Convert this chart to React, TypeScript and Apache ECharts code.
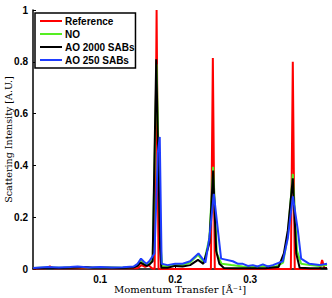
import React, { useEffect, useRef } from "react";
import * as echarts from "echarts";

// Momentum transfer (x) and intensity (y) pairs
const referenceX = [0.0107, 0.028, 0.033, 0.038, 0.06, 0.1, 0.15, 0.155, 0.16, 0.165, 0.169, 0.1727, 0.1753, 0.1779, 0.19, 0.2477, 0.2503, 0.2529, 0.3543, 0.3569, 0.3595, 0.393, 0.396, 0.399, 0.4025];
const referenceY = [0.002, 0.003, 0.01, 0.003, 0.003, 0.003, 0.003, 0.015, 0.008, 0.014, 0.003, 0.0, 1.0, 0.0, 0.0, 0.0, 0.815, 0.0, 0.0, 0.8, 0.0, 0.0, 0.035, 0.004, 0.004];

const noX = [0.0107, 0.03, 0.05, 0.07, 0.09, 0.11, 0.13, 0.145, 0.15, 0.154, 0.158, 0.162, 0.166, 0.17, 0.1753, 0.1805, 0.183, 0.19, 0.2, 0.21, 0.22, 0.2305, 0.2385, 0.2457, 0.2507, 0.2555, 0.262, 0.275, 0.29, 0.305, 0.32, 0.335, 0.344, 0.3503, 0.3569, 0.3625, 0.368, 0.38, 0.392, 0.4025];
const noY = [0.004, 0.006, 0.005, 0.008, 0.005, 0.006, 0.005, 0.008, 0.018, 0.035, 0.025, 0.018, 0.025, 0.035, 0.79, 0.09, 0.01, 0.012, 0.015, 0.015, 0.025, 0.055, 0.025, 0.12, 0.395, 0.06, 0.02, 0.015, 0.01, 0.008, 0.012, 0.01, 0.025, 0.13, 0.367, 0.07, 0.02, 0.015, 0.012, 0.015];

const ao2000X = [0.0107, 0.03, 0.05, 0.07, 0.08, 0.09, 0.11, 0.13, 0.145, 0.15, 0.154, 0.158, 0.162, 0.166, 0.17, 0.1748, 0.18, 0.1815, 0.19, 0.2, 0.21, 0.22, 0.2305, 0.2377, 0.2457, 0.2507, 0.2547, 0.259, 0.265, 0.28, 0.3, 0.32, 0.338, 0.345, 0.3503, 0.3569, 0.3615, 0.366, 0.38, 0.4025];
const ao2000Y = [0.003, 0.004, 0.004, 0.006, 0.008, 0.005, 0.005, 0.004, 0.006, 0.012, 0.025, 0.018, 0.012, 0.018, 0.03, 0.81, 0.08, 0.005, 0.005, 0.012, 0.01, 0.015, 0.035, 0.02, 0.1, 0.38, 0.07, 0.02, 0.004, 0.003, 0.003, 0.003, 0.008, 0.06, 0.15, 0.35, 0.06, 0.005, 0.003, 0.003];

const ao250X = [0.0107, 0.02, 0.03, 0.045, 0.06, 0.07, 0.085, 0.1, 0.115, 0.13, 0.145, 0.15, 0.1545, 0.1585, 0.162, 0.1655, 0.169, 0.1725, 0.177, 0.1795, 0.182, 0.19, 0.2, 0.21, 0.22, 0.2311, 0.2404, 0.2457, 0.2516, 0.2613, 0.2769, 0.284, 0.2903, 0.297, 0.3036, 0.31, 0.317, 0.3235, 0.3303, 0.3436, 0.3503, 0.357, 0.3636, 0.368, 0.379, 0.3924, 0.4025];
const ao250Y = [0.004, 0.006, 0.008, 0.006, 0.008, 0.01, 0.006, 0.008, 0.006, 0.007, 0.01, 0.02, 0.04, 0.028, 0.02, 0.03, 0.045, 0.06, 0.45, 0.51, 0.02, 0.015, 0.02, 0.02, 0.03, 0.06, 0.025, 0.12, 0.29, 0.04, 0.03, 0.02, 0.02, 0.012, 0.015, 0.01, 0.018, 0.01, 0.015, 0.03, 0.12, 0.28, 0.15, 0.04, 0.02, 0.015, 0.02];

const seriesNames = ["Reference", "NO", "AO 2000 SABs", "AO 250 SABs"];
const seriesColors = ["#ff0000", "#55ee22", "#000000", "#1f3dff"];
const xTickValues = [0.1, 0.2, 0.3];

const zip = (xs: number[], ys: number[]) => xs.map((x, i) => [x, ys[i]]);

export default function App() {
  const ref = useRef<HTMLDivElement>(null);
  useEffect(() => {
    if (!ref.current) return;
    const chart = echarts.init(ref.current, undefined, { renderer: "svg" });
    const datasets = [
      zip(referenceX, referenceY),
      zip(noX, noY),
      zip(ao2000X, ao2000Y),
      zip(ao250X, ao250Y),
    ];
    const labelFont = { fontFamily: "Liberation Sans, Arial, sans-serif", fontWeight: "bold" as const, fontSize: 10, color: "#000" };
    chart.setOption({
      animation: false,
      backgroundColor: "#fff",
      grid: { left: 33, right: 5, top: 10, bottom: 29, containLabel: false, outerBoundsMode: "none" },
      legend: {
        orient: "vertical",
        left: 35,
        top: 13,
        padding: [2, 1, 2, 5],
        itemGap: 1,
        itemWidth: 22,
        itemHeight: 2,
        icon: "rect",
        backgroundColor: "#fff",
        borderColor: "#000",
        borderWidth: 1.5,
        borderRadius: 0,
        textStyle: { ...labelFont, lineHeight: 12, padding: [0, 0, 0, -2] },
        data: seriesNames,
      },
      xAxis: {
        type: "value",
        min: 0.0105,
        max: 0.4025,
        name: "Momentum Transfer [Å⁻¹]",
        nameLocation: "middle",
        nameGap: 15,
        nameMoveOverlap: false,
        nameTextStyle: { fontFamily: "DejaVu Serif, serif", fontSize: 10, color: "#000", verticalAlign: "top" },
        axisLine: { show: true, lineStyle: { color: "#000", width: 1.5 } },
        axisTick: { show: true, inside: true, length: 3, customValues: xTickValues, lineStyle: { color: "#000" } },
        axisLabel: { ...labelFont, margin: 5, customValues: xTickValues, formatter: (v: number) => String(Math.round(v * 10) / 10) },
        splitLine: { show: false },
      },
      yAxis: {
        type: "value",
        min: 0,
        max: 1,
        interval: 0.2,
        name: "Scattering Intensity [A.U.]",
        nameLocation: "middle",
        nameGap: 20,
        nameMoveOverlap: false,
        nameRotate: 90,
        nameTextStyle: { fontFamily: "DejaVu Serif, serif", fontSize: 9.5, color: "#000" },
        axisLine: { show: true, lineStyle: { color: "#000", width: 1.5 } },
        axisTick: { show: true, inside: true, length: 3, lineStyle: { color: "#000" } },
        axisLabel: { ...labelFont, margin: 5, formatter: (v: number) => String(Math.round(v * 10) / 10) },
        splitLine: { show: false },
      },
      series: datasets.map((d, i) => ({
        name: seriesNames[i],
        type: "line",
        data: d,
        showSymbol: false,
        symbol: "none",
        smooth: false,
        z: 2 + i,
        lineStyle: { color: seriesColors[i], width: 2 },
        itemStyle: { color: seriesColors[i] },
      })),
    });
    return () => chart.dispose();
  }, []);
  return <div ref={ref} style={{ width: 332, height: 298, position: "absolute", left: 0, top: 0 }} />;
}
